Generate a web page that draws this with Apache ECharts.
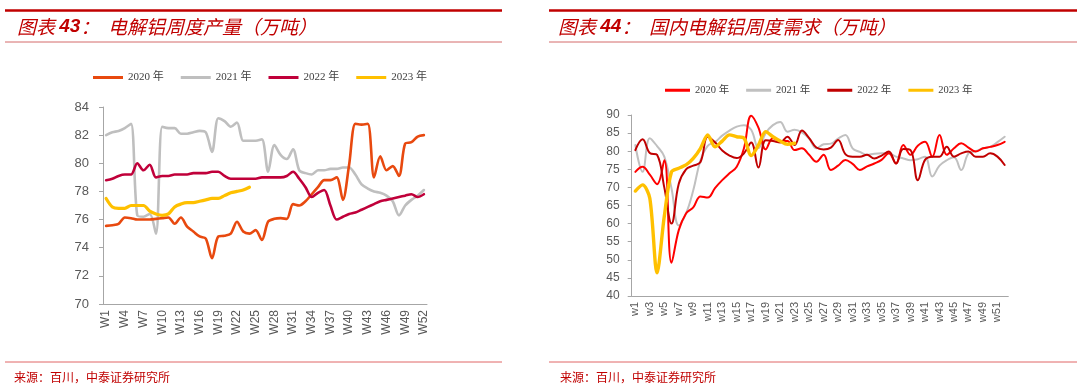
<!DOCTYPE html>
<html><head><meta charset="utf-8">
<script src="https://cdn.jsdelivr.net/npm/echarts@6/dist/echarts.min.js"></script>
<style>
html,body{margin:0;padding:0;background:#fff;}
#wrap{position:relative;width:1080px;height:392px;}
#c1{position:absolute;left:0;top:0;width:540px;height:392px;}
#c2{position:absolute;left:540px;top:0;width:540px;height:392px;}
</style></head>
<body><div id="wrap"><div id="c1"></div><div id="c2"></div></div>
<script>
// ---------- data ----------
const weeksLeft = ['W1','W2','W3','W4','W5','W6','W7','W8','W9','W10','W11','W12','W13','W14','W15','W16','W17','W18','W19','W20','W21','W22','W23','W24','W25','W26','W27','W28','W29','W30','W31','W32','W33','W34','W35','W36','W37','W38','W39','W40','W41','W42','W43','W44','W45','W46','W47','W48','W49','W50','W51','W52'];
const weeksRight = ['w1','w2','w3','w4','w5','w6','w7','w8','w9','w10','w11','w12','w13','w14','w15','w16','w17','w18','w19','w20','w21','w22','w23','w24','w25','w26','w27','w28','w29','w30','w31','w32','w33','w34','w35','w36','w37','w38','w39','w40','w41','w42','w43','w44','w45','w46','w47','w48','w49','w50','w51','w52'];
const seriesNames = ['2020 年','2021 年','2022 年','2023 年'];

// 图表43 电解铝周度产量（万吨）
const prod2020 = [75.55,75.6,75.7,76.15,76.1,76.0,76.0,76.0,76.05,76.1,76.15,75.7,76.15,75.5,75.15,74.8,74.65,73.25,74.8,74.85,75.0,75.85,75.15,75.0,75.25,74.55,75.85,76.05,76.1,76.05,77.1,77.0,77.3,77.8,78.3,78.8,78.8,79.0,77.4,79.9,82.8,82.75,82.8,79.0,80.5,79.5,79.8,79.1,81.4,81.5,81.9,82.0];
const prod2021 = [82.0,82.2,82.3,82.5,82.8,76.3,76.2,76.4,75.0,82.6,82.5,82.5,82.1,82.1,82.2,82.3,82.2,80.8,83.2,83.0,82.6,82.9,81.6,81.6,81.6,81.7,79.4,81.3,80.6,80.3,81.0,79.5,79.3,79.2,79.5,79.5,79.6,79.6,79.7,79.7,79.2,78.5,78.2,78.0,77.9,77.7,77.3,76.3,77.0,77.4,77.7,78.1];
const prod2022 = [78.8,78.9,79.1,79.2,79.2,80.0,79.5,79.9,79.0,79.1,79.1,79.2,79.2,79.2,79.3,79.3,79.3,79.4,79.4,79.1,78.9,78.9,78.9,78.9,78.9,79.0,79.0,79.0,79.0,79.1,79.4,78.9,78.3,77.6,77.9,78.1,77.0,76.0,76.2,76.4,76.5,76.7,76.9,77.1,77.3,77.4,77.5,77.6,77.7,77.8,77.6,77.8];
const prod2023 = [77.5,76.9,76.8,76.8,77.0,77.0,77.0,76.6,76.4,76.3,76.4,76.9,77.1,77.2,77.2,77.3,77.4,77.5,77.5,77.7,77.9,78.0,78.1,78.3];
const prodTicks = {min:70, max:84, step:2};

// 图表44 国内电解铝周度需求（万吨）
const dem2020 = [74.3,75.7,73.5,70.9,77.5,49.2,58.2,62.8,64.5,67.5,67.2,69.8,72.0,73.9,75.7,80.8,89.8,86.5,80.5,83.6,82.8,82.8,80.3,80.8,79.0,77.1,79.0,74.8,76.0,77.6,76.5,74.8,75.8,76.6,77.6,79.4,76.6,81.7,79.0,81.5,82.6,78.5,84.5,79.0,80.8,82.2,81.0,79.9,80.8,81.2,81.7,82.6];
const dem2021 = [81.7,74.3,83.6,81.4,78.5,69.7,59.5,62.8,69.2,77.5,81.5,82.5,84.3,85.7,86.8,87.2,85.9,80.8,85.0,87.2,88.1,85.4,85.9,85.2,83.5,80.8,81.9,82.1,83.5,84.5,80.8,79.8,79.0,79.3,79.4,79.4,78.5,78.0,77.5,77.8,78.5,73.0,76.0,77.5,78.3,74.8,79.4,80.0,80.8,81.2,82.5,84.0];
const dem2022 = [80.3,83.3,79.5,79.0,70.0,60.0,71.0,75.0,76.0,77.0,84.0,82.5,80.2,78.8,78.1,79.4,82.4,75.5,83.0,82.8,82.4,84.0,81.7,85.7,83.6,81.0,80.5,81.0,83.1,79.2,78.5,78.5,79.0,78.0,78.8,79.9,76.6,80.6,80.3,72.0,77.6,78.5,78.5,81.2,78.5,79.4,79.9,78.5,78.5,79.4,78.5,76.2];
const dem2023 = [69.0,70.7,67.0,46.4,62.0,74.3,75.3,76.2,78.0,80.8,84.5,81.2,82.8,84.5,84.0,83.6,78.8,81.7,85.4,84.0,82.8,81.9,82.2];
const demTicks = {min:40, max:90, step:5};

// ---------- helpers ----------
const RED = '#C00000';
const AXIS = '#A6A6A6';
const LBL = '#595959';
function header(x0, x1, tx, num, rest, sx) {
  return [
    {type:'line', shape:{x1:x0,y1:10.5,x2:x1,y2:10.5}, style:{stroke:RED,lineWidth:2.5}},
    {type:'line', shape:{x1:x0,y1:42,x2:x1,y2:42}, style:{stroke:'#D46A6A',lineWidth:1}},
    {type:'text', left:tx, top:17, style:{
      text:'{a|图表 }{b|' + num + '}{a|：  ' + rest + '}',
      rich:{
        a:{fontSize:19, fontStyle:'italic', fill:RED, fontFamily:'Noto Sans CJK SC'},
        b:{fontSize:19, fontStyle:'italic', fontWeight:'bold', fill:RED, fontFamily:'Liberation Sans, Noto Sans CJK SC'}
      }}},
    {type:'line', shape:{x1:x0,y1:362,x2:x1,y2:362}, style:{stroke:'#E06666',lineWidth:1}},
    {type:'text', left:sx, top:371, style:{text:'来源：百川，中泰证券研究所', fontSize:12, fill:RED, fontFamily:'Noto Sans CJK SC'}}
  ];
}
function lineSeries(name, data, color, width, smooth) {
  return {name, type:'line', data, symbol:'none', smooth,
    lineStyle:{color, width, cap:'round', join:'round'}, itemStyle:{color}};
}
function legendCfg(left, top, colors, itemWidth, gap, fs) {
  return {left, top, itemWidth, itemHeight:3, itemGap:gap, icon:'rect',
    textStyle:{fontSize:fs, color:'#404040', fontFamily:'Liberation Serif, Noto Sans CJK SC'},
    data: seriesNames.map((n,i)=>({name:n, itemStyle:{color:colors[i]}}))};
}

// ---------- left chart ----------
const c1 = echarts.init(document.getElementById('c1'), null, {renderer:'canvas'});
const colL = ['#E8490F','#BFBFBF','#C0003A','#FFC000'];
c1.setOption({
  animation:false,
  graphic: header(5, 502, 17, '43', '电解铝周度产量（万吨）', 14),
  legend: legendCfg(88, 67, colL, 30, 17, 11),
  grid:{left:103, top:107, width:324, height:197},
  xAxis:{type:'category', data:weeksLeft, boundaryGap:true,
    axisLine:{lineStyle:{color:AXIS}},
    axisTick:{interval:0, length:5, lineStyle:{color:AXIS}},
    axisLabel:{interval:2, rotate:90, fontSize:12, color:LBL, margin:6, fontFamily:'Liberation Sans'}},
  yAxis:{type:'value', min:prodTicks.min, max:prodTicks.max, interval:prodTicks.step,
    axisLine:{show:true, lineStyle:{color:AXIS}},
    axisTick:{show:true, length:4, lineStyle:{color:AXIS}},
    splitLine:{show:false},
    axisLabel:{fontSize:13, color:LBL, margin:14, fontFamily:'Liberation Sans'}},
  series:[
    lineSeries(seriesNames[1], prod2021, colL[1], 2.6, 0.3),
    lineSeries(seriesNames[0], prod2020, colL[0], 2.6, 0.3),
    lineSeries(seriesNames[2], prod2022, colL[2], 2.6, 0.3),
    lineSeries(seriesNames[3], prod2023, colL[3], 3.2, 0.3)
  ]
});

// ---------- right chart ----------
const c2 = echarts.init(document.getElementById('c2'), null, {renderer:'canvas'});
const colR = ['#FF0000','#C0C0C0','#C00000','#FFC000'];
c2.setOption({
  animation:false,
  graphic: header(9, 537, 18, '44', '国内电解铝周度需求（万吨）', 20),
  legend: legendCfg(120, 80, colR, 25, 17, 10.5),
  grid:{left:91.7, top:115, width:376.6, height:181},
  xAxis:{type:'category', data:weeksRight, boundaryGap:true,
    axisLine:{lineStyle:{color:AXIS}},
    axisTick:{interval:0, length:4, lineStyle:{color:AXIS}},
    axisLabel:{interval:1, rotate:90, fontSize:11, color:LBL, margin:6, fontFamily:'Liberation Sans'}},
  yAxis:{type:'value', min:demTicks.min, max:demTicks.max, interval:demTicks.step,
    axisLine:{show:true, lineStyle:{color:AXIS}},
    axisTick:{show:true, length:4, lineStyle:{color:AXIS}},
    splitLine:{show:false},
    axisLabel:{fontSize:12, color:LBL, margin:12, fontFamily:'Liberation Sans'}},
  series:[
    lineSeries(seriesNames[1], dem2021, colR[1], 2, 0.4),
    lineSeries(seriesNames[0], dem2020, colR[0], 2, 0.4),
    lineSeries(seriesNames[2], dem2022, colR[2], 2, 0.4),
    lineSeries(seriesNames[3], dem2023, colR[3], 3.4, 0.3)
  ]
});
</script></body></html>
